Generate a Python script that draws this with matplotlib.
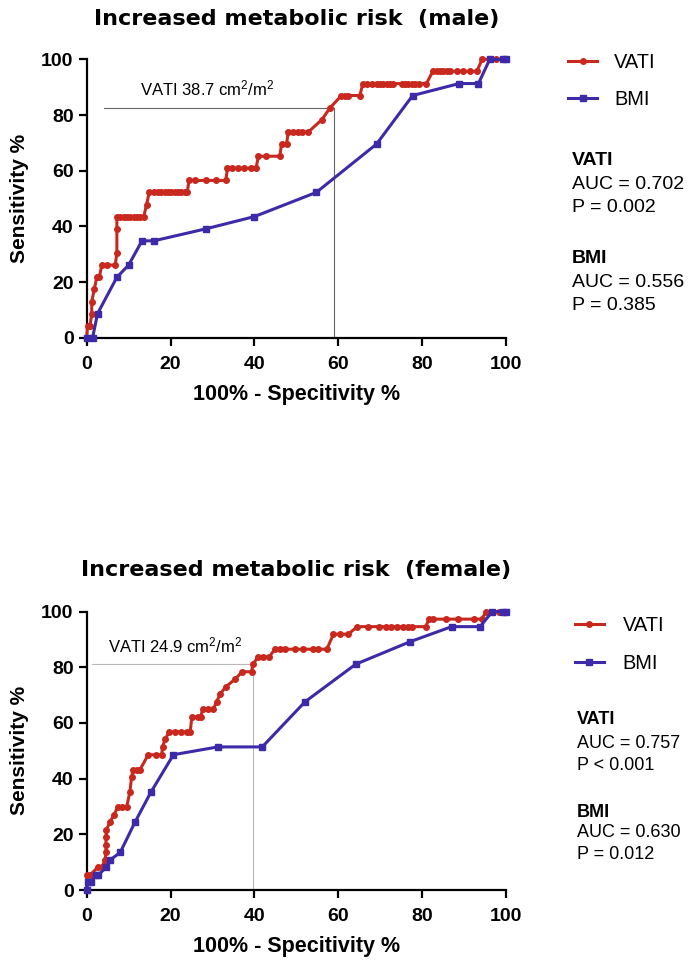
import matplotlib
matplotlib.use('Agg')
import matplotlib.pyplot as plt

plt.rcParams['font.family'] = ['Liberation Sans', 'DejaVu Sans']
plt.rcParams['mathtext.fontset'] = 'custom'
plt.rcParams['mathtext.rm'] = 'Liberation Sans'
plt.rcParams['mathtext.it'] = 'Liberation Sans:italic'
plt.rcParams['mathtext.bf'] = 'Liberation Sans:bold'

# ---- male ----
male_vati_x = [0, 0.2, 0.8, 1.2, 1.2, 1.8, 2.4, 3.0, 3.6, 4.8, 6.8, 7.2, 7.2, 7.2,
               8.0, 8.8, 9.6, 10.4, 11.2, 12.0, 12.8, 13.6, 14.3, 14.9, 16.1, 16.9,
               17.8, 18.6, 19.4, 20.2, 21.0, 21.8, 22.6, 23.4, 24.0, 24.4, 25.8, 28.4,
               30.8, 33.2, 33.6, 34.6, 36.0, 37.6, 39.2, 40.4, 41.0, 42.9, 46.1, 46.5,
               47.7, 48.1, 49.3, 50.5, 51.3, 52.9, 56.1, 58.1, 60.8, 61.6, 62.4, 65.2,
               65.9, 66.8, 68.0, 69.2, 70.0, 70.8, 71.6, 72.4, 73.2, 75.2, 76.0, 76.8,
               77.6, 78.4, 79.2, 81.1, 82.6, 83.5, 84.3, 85.1, 85.9, 86.7, 88.3, 89.9,
               91.5, 93.1, 94.4, 96.3, 97.8, 99.4, 100]
male_vati_y = [0, 4.3, 4.3, 8.7, 13.0, 17.4, 21.7, 21.7, 26.1, 26.1, 26.1, 30.4, 39.1, 43.5,
               43.5, 43.5, 43.5, 43.5, 43.5, 43.5, 43.5, 43.5, 47.8, 52.2, 52.2, 52.2,
               52.2, 52.2, 52.2, 52.2, 52.2, 52.2, 52.2, 52.2, 52.2, 56.5, 56.5, 56.5,
               56.5, 56.5, 60.9, 60.9, 60.9, 60.9, 60.9, 60.9, 65.2, 65.2, 65.2, 69.6,
               69.6, 73.9, 73.9, 73.9, 73.9, 73.9, 78.3, 82.6, 87.0, 87.0, 87.0, 87.0,
               91.3, 91.3, 91.3, 91.3, 91.3, 91.3, 91.3, 91.3, 91.3, 91.3, 91.3, 91.3,
               91.3, 91.3, 91.3, 91.3, 95.7, 95.7, 95.7, 95.7, 95.7, 95.7, 95.7, 95.7,
               95.7, 95.7, 100, 100, 100, 100, 100]
male_bmi_x = [0, 1.4, 2.6, 7.2, 10.0, 13.2, 16.0, 28.4, 40.0, 54.8, 69.2, 77.8, 88.9,
              93.5, 96.2, 99.4, 100]
male_bmi_y = [0, 0, 8.7, 21.7, 26.1, 34.8, 34.8, 39.1, 43.5, 52.2, 69.6, 87.0, 91.3,
              91.3, 100, 100, 100]

# ---- female ----
female_vati_x = [0, 0, 0.8, 2.6, 3.6, 4.4, 4.6, 4.6, 4.6, 4.7, 5.5, 6.5, 7.4, 8.5, 9.5,
                 10.3, 10.7, 11.1, 12.0, 12.7, 14.7, 16.5, 17.9, 18.1, 18.7, 19.7, 21.0,
                 22.5, 24.0, 24.7, 25.1, 26.5, 27.2, 27.7, 29.0, 30.2, 31.0, 31.8, 33.2,
                 35.4, 37.1, 39.4, 39.6, 41.0, 42.0, 43.6, 44.9, 46.1, 47.3, 49.7, 51.7,
                 54.1, 55.3, 57.3, 58.9, 60.5, 62.4, 64.6, 67.2, 69.8, 71.4, 72.6, 74.1,
                 75.6, 76.6, 77.6, 80.9, 81.7, 82.7, 85.7, 88.7, 92.5, 94.3, 95.3, 96.8,
                 98.5, 100]
female_vati_y = [0, 5.4, 5.4, 8.1, 8.1, 10.8, 13.5, 16.2, 18.9, 21.6, 24.3, 27.0, 29.7, 29.7,
                 29.7, 35.1, 40.5, 43.2, 43.2, 43.2, 48.6, 48.6, 48.6, 51.4, 54.1, 56.8,
                 56.8, 56.8, 56.8, 56.8, 62.2, 62.2, 62.2, 64.9, 64.9, 64.9, 67.6, 70.3,
                 73.0, 75.7, 78.4, 78.4, 81.1, 83.8, 83.8, 83.8, 86.5, 86.5, 86.5, 86.5,
                 86.5, 86.5, 86.5, 86.5, 91.9, 91.9, 91.9, 94.6, 94.6, 94.6, 94.6, 94.6,
                 94.6, 94.6, 94.6, 94.6, 94.6, 97.3, 97.3, 97.3, 97.3, 97.3, 97.3, 100,
                 100, 100, 100]
female_bmi_x = [0, 0.2, 1.0, 2.2, 2.8, 4.6, 5.6, 8.0, 11.5, 15.3, 20.7, 31.3, 41.9, 52.1,
                64.2, 77.2, 87.1, 93.9, 96.8, 99.3, 100]
female_bmi_y = [0, 2.7, 2.7, 5.4, 5.4, 8.1, 10.8, 13.5, 24.3, 35.1, 48.6, 51.4, 51.4, 67.6,
                81.1, 89.2, 94.6, 94.6, 100, 100, 100]

titles = ['Increased metabolic risk  (male)', 'Increased metabolic risk  (female)']
cutoff_labels = ['VATI 38.7 cm$^2$/m$^2$', 'VATI 24.9 cm$^2$/m$^2$']
cutoff_x = [59.0, 39.6]
cutoff_y = [82.6, 81.1]
cutoff_start = [4.1, 1.3]
vati_stats = [['AUC = 0.702', 'P = 0.002'], ['AUC = 0.757', 'P < 0.001']]
bmi_stats = [['AUC = 0.556', 'P = 0.385'], ['AUC = 0.630', 'P = 0.012']]

RED = '#C8281E'
BLUE = '#3C2AA8'

fig = plt.figure(figsize=(6.97, 9.6), dpi=100)
ax1 = fig.add_axes([0.1244, 0.6482, 0.6011, 0.29])
ax2 = fig.add_axes([0.1244, 0.0729, 0.6011, 0.29])

panels = [
    (ax1, male_vati_x, male_vati_y, male_bmi_x, male_bmi_y),
    (ax2, female_vati_x, female_vati_y, female_bmi_x, female_bmi_y),
]

cut_colors = ['#666666', '#b8b8b8']
label_pos = [(12.7, 85.8), (5.2, 84.4)]
title_pad = [24.5, 26]
leg_anchor = [(1.149, 1.022), (1.165, 0.985)]
leg_textpad = [0.85, 0.95]
leg_spacing = [0.88, 0.95]
stat_x = [1.158, 1.170]
stat_size = [14, 13]
stat_rows = [[0.638, 0.549, 0.466, 0.286, 0.200, 0.117],
             [0.611, 0.528, 0.449, 0.280, 0.205, 0.126]]

for i, (ax, vx, vy, bx, by) in enumerate(panels):
    # cutoff guide lines
    ax.plot([cutoff_start[i], cutoff_x[i]], [cutoff_y[i], cutoff_y[i]],
            color=cut_colors[i], lw=0.8, zorder=1)
    ax.plot([cutoff_x[i], cutoff_x[i]], [0, cutoff_y[i]],
            color=cut_colors[i], lw=0.8, zorder=1)
    ax.text(label_pos[i][0], label_pos[i][1], cutoff_labels[i], fontsize=12,
            va='bottom', ha='left')

    ax.plot(vx, vy, color=RED, lw=2.2, marker='o', markersize=4,
            label='VATI', clip_on=False, zorder=3)
    ax.plot(bx, by, color=BLUE, lw=2.2, marker='s', markersize=4,
            label='BMI', clip_on=False, zorder=4)

    ax.set_xlim(0, 100)
    ax.set_ylim(0, 100)
    ax.set_xticks([0, 20, 40, 60, 80, 100])
    ax.set_yticks([0, 20, 40, 60, 80, 100])
    for s in ['top', 'right']:
        ax.spines[s].set_visible(False)
    for s in ['left', 'bottom']:
        ax.spines[s].set_linewidth(1.6)
    ax.tick_params(direction='out', length=5.5, width=1.6, labelsize=14, pad=4)
    ax.tick_params(axis='x', pad=7.5)
    for lbl in ax.get_xticklabels() + ax.get_yticklabels():
        lbl.set_fontweight('bold')

    ax.set_xlabel('100% - Specitivity %', fontsize=15.5, fontweight='bold', labelpad=8)
    ax.set_ylabel('Sensitivity %', fontsize=15, fontweight='bold', labelpad=9)
    ax.set_title(titles[i], fontsize=16, fontweight='bold', family='DejaVu Sans',
                 pad=title_pad[i])

    ax.legend(loc='upper left', bbox_to_anchor=leg_anchor[i], frameon=False,
              fontsize=14.4, handlelength=1.45, handletextpad=leg_textpad[i],
              labelspacing=leg_spacing[i], borderpad=0, borderaxespad=0, numpoints=1)

    rows = stat_rows[i]
    ax.text(stat_x[i], rows[0], 'VATI', transform=ax.transAxes, fontsize=stat_size[i],
            fontweight='bold', va='center')
    ax.text(stat_x[i], rows[1], vati_stats[i][0], transform=ax.transAxes,
            fontsize=stat_size[i], va='center')
    ax.text(stat_x[i], rows[2], vati_stats[i][1], transform=ax.transAxes,
            fontsize=stat_size[i], va='center')
    ax.text(stat_x[i], rows[3], 'BMI', transform=ax.transAxes, fontsize=stat_size[i],
            fontweight='bold', va='center')
    ax.text(stat_x[i], rows[4], bmi_stats[i][0], transform=ax.transAxes,
            fontsize=stat_size[i], va='center')
    ax.text(stat_x[i], rows[5], bmi_stats[i][1], transform=ax.transAxes,
            fontsize=stat_size[i], va='center')

fig.savefig('out.png', dpi=100)
